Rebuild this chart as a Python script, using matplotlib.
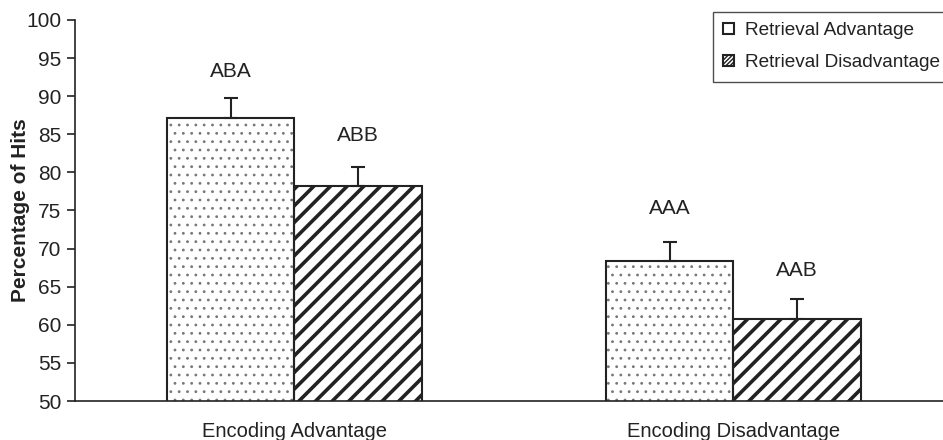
import matplotlib
matplotlib.use("Agg")
import matplotlib.pyplot as plt
import matplotlib.patches as mpatches
import numpy as np

plt.rcParams['font.family'] = ['Liberation Sans', 'DejaVu Sans']

categories = ["Encoding Advantage", "Encoding Disadvantage"]
series_names = ["Retrieval Advantage", "Retrieval Disadvantage"]
adv_values = [87.1, 68.4]
dis_values = [78.2, 60.8]
adv_err = [2.6, 2.5]
dis_err = [2.5, 2.6]
adv_labels = ["ABA", "AAA"]
dis_labels = ["ABB", "AAB"]
adv_label_y = [93.2, 75.3]
dis_label_y = [84.9, 67.1]
yticks = list(range(50, 101, 5))

INK = '#222222'
fig = plt.figure(figsize=(9.43, 4.4), dpi=100)
ax = fig.add_axes([0.0795, 0.0886, 0.931, 0.866])

x = np.arange(len(categories))
w = 0.29

# dotted bars: grey dots fill, then black outline
plt.rcParams['hatch.linewidth'] = 0.8
ax.bar(x - w/2, adv_values, w, color='white', edgecolor='#777777', linewidth=0,
       hatch='..', zorder=2)
b1 = ax.bar(x - w/2, adv_values, w, color='none', edgecolor=INK, linewidth=1.5, zorder=2.5)

# striped bars
plt.rcParams['hatch.linewidth'] = 2.6
ax.bar(x + w/2, dis_values, w, color='white', edgecolor=INK, linewidth=1.5,
       hatch='//', zorder=2)

ax.errorbar(x - w/2, adv_values, yerr=[[0]*2, adv_err], fmt='none', ecolor=INK,
            elinewidth=1.5, capsize=5, capthick=1.5, zorder=3)
ax.errorbar(x + w/2, dis_values, yerr=[[0]*2, dis_err], fmt='none', ecolor=INK,
            elinewidth=1.5, capsize=5, capthick=1.5, zorder=3)

for xi, lab, yy in zip(x - w/2, adv_labels, adv_label_y):
    ax.text(xi, yy, lab, ha='center', va='center', fontsize=15, color=INK)
for xi, lab, yy in zip(x + w/2, dis_labels, dis_label_y):
    ax.text(xi, yy, lab, ha='center', va='center', fontsize=15, color=INK)

ax.set_xlim(-0.5, 1.5)
ax.set_ylim(50, 100)
ax.set_yticks(yticks)
ax.set_xticks(x)
ax.set_xticklabels(categories, fontsize=14.5, color=INK)
ax.tick_params(axis='x', length=0, pad=15)
ax.tick_params(axis='y', length=6, width=1.2, labelsize=15, colors=INK, direction='out', pad=4)
ax.set_ylabel("Percentage of Hits", fontsize=15, fontweight='bold', color=INK, labelpad=-3)
for s in ['top', 'right']:
    ax.spines[s].set_visible(False)
for s in ['left', 'bottom']:
    ax.spines[s].set_color(INK)
    ax.spines[s].set_linewidth(1.2)

# legend with small square handles
plt.rcParams['hatch.linewidth'] = 1.0
h1 = mpatches.Patch(facecolor='white', edgecolor=INK, linewidth=1.5)
h2 = mpatches.Patch(facecolor='white', edgecolor=INK, linewidth=1.5, hatch='////////')
leg = fig.legend([h1, h2], series_names, loc='upper left',
                 bbox_to_anchor=(713/943, 1 - 12/440),
                 fontsize=13.7, frameon=True, fancybox=False, edgecolor=INK,
                 handlelength=0.55, handleheight=0.55, handletextpad=0.6, borderpad=0.55,
                 borderaxespad=0, labelspacing=0.78)
leg.get_frame().set_linewidth(1.0)
for t in leg.get_texts():
    t.set_color(INK)

fig.savefig("out.png", dpi=100)
